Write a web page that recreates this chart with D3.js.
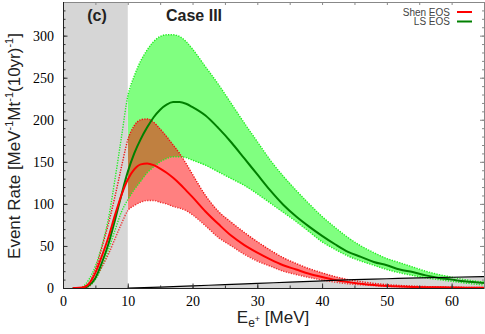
<!DOCTYPE html>
<meta charset="utf-8">
<style>
  body { margin: 0; background: #fff; }
  svg { display: block; }
  .axis line { stroke: #333; }
  .axis .domain { display: none; }
  .ttl { font-family: "Liberation Sans", Arial, sans-serif; fill: #222; }
</style>
<svg width="485" height="334"></svg>
<script src="https://cdn.jsdelivr.net/npm/d3@7/dist/d3.min.js"></script>
<script>
  // positron energy grid [MeV]
  var energy = [1.5, 2, 3, 4, 5, 6, 7, 8, 9, 10, 11, 12, 13, 14, 15, 16, 17, 18, 19, 20,
    22, 24, 26, 28, 30, 32, 34, 36, 38, 40, 42, 44, 46, 48, 50, 52, 54, 56, 58, 60, 62, 65];
  // Shen EOS: central curve and band edges
  var shen   = [0, 0, 0.5, 5, 18, 38, 60, 86, 110, 129, 141, 147, 148, 146, 142, 137, 131, 124, 116, 108,
    91, 76, 62, 51, 42, 34, 27, 22, 17, 13, 9.5, 7, 5, 3.5, 2.5, 1.8, 1.3, 1, 0.8, 0.6, 0.4, 0.3];
  var shenHi = [0, 0, 1, 6, 22, 48, 76, 108, 143, 176, 193, 200, 201, 197, 189, 180, 170, 160, 148, 135,
    110, 91, 78, 66, 55, 45, 36, 29, 23, 18, 13.5, 10, 7.5, 5.5, 4, 3, 2.3, 1.7, 1.3, 1, 0.8, 0.5];
  var shenLo = [0, 0, 0, 2, 12, 25, 40, 58, 76, 92, 98, 102, 104, 104, 102, 100, 97, 95, 92, 87,
    74, 60, 50, 40, 32, 26, 20, 16, 12.5, 9.5, 7, 5, 3.8, 2.8, 2, 1.5, 1.1, 0.8, 0.6, 0.4, 0.3, 0.2];
  // LS EOS: central curve and band edges
  var ls     = [0, 0, 0, 3, 12, 30, 52, 80, 110, 138, 160, 177, 191, 203, 212, 218, 221, 221, 219, 215,
    205, 190, 173, 154, 135, 116, 99, 85, 73, 62, 52, 43, 37, 31, 27, 22, 19, 15, 12, 10, 8, 6];
  var lsHi   = [0, 0, 1, 10, 26, 50, 82, 128, 178, 228, 252, 270, 283, 293, 299, 301, 301, 299, 293, 284,
    263, 242, 219, 196, 174, 152, 133, 116, 100, 85, 72, 60, 50, 42, 35, 30, 25, 20, 16, 13, 10, 7];
  var lsLo   = [0, 0, 0, 2, 10, 25, 45, 68, 90, 105, 117, 127, 137, 144, 150, 154, 156, 156, 155, 152,
    146, 138, 130, 122, 112, 101, 90, 79, 67, 55, 46, 38, 32, 27, 22, 18, 15, 12, 10, 8, 6, 3.5];
  // background
  var bgEnergy = [10, 15, 20, 25, 30, 35, 40, 45, 50, 55, 60, 65];
  var bgRate   = [0, 1, 2.5, 4, 5.5, 7, 8.5, 10, 11, 12, 12.8, 13.5];
  var xTicks = [0, 10, 20, 30, 40, 50, 60];
  var yTicks = [0, 50, 100, 150, 200, 250, 300];
  var cutE = 10;

  var svg = d3.select("svg");
  var m = {l: 63, r: 484, t: 2, b: 288};
  var x = d3.scaleLinear().domain([0, 65]).range([m.l, m.r]);
  var y = d3.scaleLinear().domain([0, 340]).range([m.b, m.t]);

  function band(lo, hi) {
    return energy.map(function(e, i) { return {e: e, lo: lo[i], hi: hi[i]}; })
      .filter(function(d) { return d.e >= cutE; });
  }
  var shenBand = band(shenLo, shenHi);
  var lsBand = band(lsLo, lsHi);

  var area = d3.area().curve(d3.curveMonotoneX)
    .x(function(d) { return x(d.e); })
    .y0(function(d) { return y(d.lo); })
    .y1(function(d) { return y(d.hi); });
  var line = d3.line().curve(d3.curveMonotoneX)
    .x(function(d) { return x(d.e); })
    .y(function(d) { return y(d.v); });

  svg.append("clipPath").attr("id", "plot")
    .append("rect").attr("x", m.l).attr("y", m.t).attr("width", m.r - m.l).attr("height", m.b - m.t);
  svg.append("clipPath").attr("id", "lsclip")
    .append("path").attr("d", area(lsBand));

  var g = svg.append("g").attr("clip-path", "url(#plot)");

  g.append("path").attr("d", area(lsBand)).attr("fill", "#80ff80");
  g.append("path").attr("d", area(shenBand)).attr("fill", "#ff8080");
  g.append("path").attr("d", area(shenBand)).attr("fill", "#c08040").attr("clip-path", "url(#lsclip)");

  // grey: below threshold and under background
  g.append("rect").attr("x", x(0)).attr("y", y(340)).attr("width", x(cutE) - x(0)).attr("height", y(0) - y(340))
    .attr("fill", "#d6d6d6");
  var bg = bgEnergy.map(function(e, i) { return {e: e, v: bgRate[i], lo: 0, hi: bgRate[i]}; });
  g.append("path").attr("d", area(bg)).attr("fill", "#d6d6d6");

  function edge(arr, color) {
    var d = energy.map(function(e, i) { return {e: e, v: arr[i]}; }).filter(function(p) { return p.e >= 3; });
    g.append("path").attr("d", line(d)).attr("fill", "none")
      .attr("stroke", color).attr("stroke-width", 1.4).attr("stroke-dasharray", "1.3,1.3");
  }
  edge(lsHi, "#22ee22");
  edge(lsLo, "#22ee22");
  edge(shenHi, "#ee1111");
  edge(shenLo, "#ee3333");

  function solid(arr, color) {
    var d = energy.map(function(e, i) { return {e: e, v: arr[i]}; });
    g.append("path").attr("d", line(d)).attr("fill", "none")
      .attr("stroke", color).attr("stroke-width", 2);
  }
  solid(ls, "#008000");
  solid(shen, "#ff0000");

  g.append("path").attr("d", line(bg)).attr("fill", "none").attr("stroke", "#000").attr("stroke-width", 1.2);

  // axes
  var minorX = d3.range(0, 66, 5), minorY = d3.range(0, 341, 10);
  svg.append("g").attr("class", "axis").attr("transform", "translate(0," + m.b + ")")
    .call(d3.axisBottom(x).tickValues(minorX).tickSizeInner(-2.5).tickSizeOuter(0).tickFormat(""));
  svg.append("g").attr("class", "axis lab").attr("transform", "translate(0," + m.b + ")")
    .call(d3.axisBottom(x).tickValues(xTicks).tickSizeInner(-4.5).tickSizeOuter(0).tickPadding(8).tickFormat(d3.format("d")));
  svg.append("g").attr("class", "axis").attr("transform", "translate(" + m.l + ",0)")
    .call(d3.axisLeft(y).tickValues(minorY).tickSizeInner(-2.5).tickSizeOuter(0).tickFormat(""));
  svg.append("g").attr("class", "axis lab").attr("transform", "translate(" + m.l + ",0)")
    .call(d3.axisLeft(y).tickValues(yTicks).tickSizeInner(-4.5).tickSizeOuter(0).tickPadding(9).tickFormat(d3.format("d")));
  svg.append("g").attr("class", "axis mirror").attr("transform", "translate(0," + m.t + ")")
    .call(d3.axisTop(x).tickValues(minorX).tickSizeInner(-3).tickSizeOuter(0).tickFormat(""));
  svg.append("g").attr("class", "axis mirror").attr("transform", "translate(" + m.r + ",0)")
    .call(d3.axisRight(y).tickValues(minorY).tickSizeInner(-2).tickSizeOuter(0).tickFormat(""));
  svg.append("g").attr("class", "axis mirror").attr("transform", "translate(" + m.r + ",0)")
    .call(d3.axisRight(y).tickValues(yTicks).tickSizeInner(-4).tickSizeOuter(0).tickFormat(""));
  svg.selectAll(".mirror line").style("stroke", "#888");
  svg.selectAll(".lab text")
    .style("font-family", "'Liberation Serif', 'DejaVu Serif', serif")
    .style("font-size", "14px").style("fill", "#000");

  svg.append("path").attr("fill", "none").attr("stroke", "#888")
    .attr("d", "M" + m.l + "," + (m.t + 0.5) + "H" + (m.r + 0.5) + "V" + m.b);
  svg.append("path").attr("fill", "none").attr("stroke", "#222")
    .attr("d", "M" + (m.l + 0.5) + "," + m.t + "V" + (m.b + 0.5) + "H" + (m.r + 0.5));

  // labels
  svg.append("text").attr("class", "ttl").attr("x", 97).attr("y", 21).attr("text-anchor", "middle")
    .attr("font-size", 16).attr("font-weight", "bold").text("(c)");
  svg.append("text").attr("class", "ttl").attr("x", 194).attr("y", 21).attr("text-anchor", "middle")
    .attr("font-size", 16).attr("font-weight", "bold").text("Case III");

  var legend = [{name: "Shen EOS", color: "#ff0000"}, {name: "LS EOS", color: "#008000"}];
  legend.forEach(function(d, i) {
    svg.append("text").attr("class", "ttl").attr("x", 450).attr("y", 15.5 + i * 9.5)
      .attr("text-anchor", "end").attr("font-size", 10).style("fill", "#444").text(d.name);
    svg.append("line").attr("x1", 457).attr("x2", 472).attr("y1", 12 + i * 9.5).attr("y2", 12 + i * 9.5)
      .attr("stroke", d.color).attr("stroke-width", 2);
  });

  var xt = svg.append("text").attr("class", "ttl").attr("x", 273).attr("y", 323)
    .attr("text-anchor", "middle").attr("font-size", 17);
  xt.append("tspan").text("E");
  xt.append("tspan").attr("font-size", 12).attr("dy", 4).text("e");
  xt.append("tspan").attr("font-size", 9).attr("dy", -5).text("+");
  xt.append("tspan").attr("dy", 1).text(" [MeV]");

  var yt = svg.append("text").attr("class", "ttl").attr("transform", "translate(20,146) rotate(-90)")
    .attr("text-anchor", "middle").attr("font-size", 17);
  var parts = ["Event Rate [MeV", "-1", "Mt", "-1", "(10yr)", "-1", "]"];
  parts.forEach(function(p, i) {
    var sup = i % 2 == 1;
    yt.append("tspan").attr("font-size", sup ? 11 : 17).attr("dy", sup ? -7 : (i > 0 ? 7 : 0)).text(p);
  });
</script>
